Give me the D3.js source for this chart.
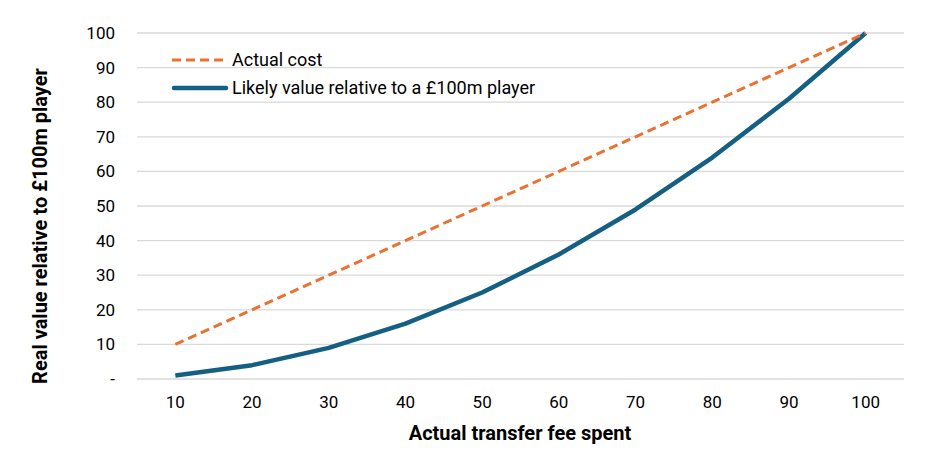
<!DOCTYPE html>
<html>
<head>
<meta charset="utf-8">
<script src="https://cdn.jsdelivr.net/npm/d3@7"></script>
<style>
  body { margin: 0; background: #fff; }
  text { font-family: Roboto, "Open Sans", sans-serif; fill: #000; }
</style>
</head>
<body>
<div id="chart"></div>
<script>
var categories = [10, 20, 30, 40, 50, 60, 70, 80, 90, 100];
var actualCost = [10, 20, 30, 40, 50, 60, 70, 80, 90, 100];
var likelyValue = [1, 4, 9, 16, 25, 36, 49, 64, 81, 100];
var yTicks = [0, 10, 20, 30, 40, 50, 60, 70, 80, 90, 100];
var seriesNames = ['Actual cost', 'Likely value relative to a \u00a3100m player'];

var width = 940, height = 466;
var plotLeft = 137, plotRight = 904, plotTop = 33, plotBottom = 379;

var svg = d3.select('#chart').append('svg')
    .attr('width', width)
    .attr('height', height);

var x = d3.scaleBand()
    .domain(categories)
    .range([plotLeft, plotRight]);

var y = d3.scaleLinear()
    .domain([0, 100])
    .range([plotBottom, plotTop]);

// gridlines
svg.append('g')
    .selectAll('line')
    .data(yTicks)
    .enter().append('line')
    .attr('x1', plotLeft)
    .attr('x2', plotRight)
    .attr('y1', function(d) { return y(d); })
    .attr('y2', function(d) { return y(d); })
    .attr('stroke', '#d9d9d9')
    .attr('stroke-width', 1.3);

// y axis labels
var yAxis = d3.axisLeft(y)
    .tickValues(yTicks)
    .tickSize(0)
    .tickPadding(0)
    .tickFormat(function(d) { return d === 0 ? '-' : d; });

var yg = svg.append('g')
    .attr('transform', 'translate(115,0)')
    .call(yAxis);
yg.select('.domain').remove();
yg.selectAll('text')
    .style('font-size', '17px')
    .attr('fill', '#000');

// x axis labels
var xAxis = d3.axisBottom(x)
    .tickSize(0)
    .tickPadding(0);

var xg = svg.append('g')
    .attr('transform', 'translate(0,' + (plotBottom + 17) + ')')
    .call(xAxis);
xg.select('.domain').remove();
xg.selectAll('text')
    .style('font-size', '17px')
    .attr('fill', '#000');

function cx(d) { return x(d) + x.bandwidth() / 2; }

var line = d3.line()
    .x(function(d, i) { return cx(categories[i]); })
    .y(function(d) { return y(d); });

svg.append('path')
    .datum(likelyValue)
    .attr('d', line)
    .attr('fill', 'none')
    .attr('stroke', '#156082')
    .attr('stroke-width', 4.5)
    .attr('stroke-linejoin', 'round');

svg.append('path')
    .datum(actualCost)
    .attr('d', line)
    .attr('fill', 'none')
    .attr('stroke', '#E97132')
    .attr('stroke-width', 3)
    .attr('stroke-dasharray', '9,5');

// legend
var legend = svg.append('g');
var legendY = [60, 88];
legend.append('line')
    .attr('x1', 172).attr('x2', 228)
    .attr('y1', legendY[0]).attr('y2', legendY[0])
    .attr('stroke', '#E97132')
    .attr('stroke-width', 3)
    .attr('stroke-dasharray', '9,5');
legend.append('line')
    .attr('x1', 174).attr('x2', 226)
    .attr('y1', legendY[1]).attr('y2', legendY[1])
    .attr('stroke', '#156082')
    .attr('stroke-width', 4.5)
    .attr('stroke-linecap', 'round');
legend.selectAll('text')
    .data(seriesNames)
    .enter().append('text')
    .attr('x', 232)
    .attr('y', function(d, i) { return legendY[i]; })
    .attr('dy', '0.35em')
    .style('font-size', '18px')
    .text(function(d) { return d; });

// axis titles
svg.append('text')
    .attr('x', 520)
    .attr('y', 440)
    .attr('text-anchor', 'middle')
    .style('font-size', '20px')
    .style('font-weight', 'bold')
    .text('Actual transfer fee spent');

svg.append('text')
    .attr('transform', 'translate(47,226) rotate(-90)')
    .attr('text-anchor', 'middle')
    .style('font-size', '20px')
    .style('font-weight', 'bold')
    .text('Real value relative to \u00a3100m player');
</script>
</body>
</html>
